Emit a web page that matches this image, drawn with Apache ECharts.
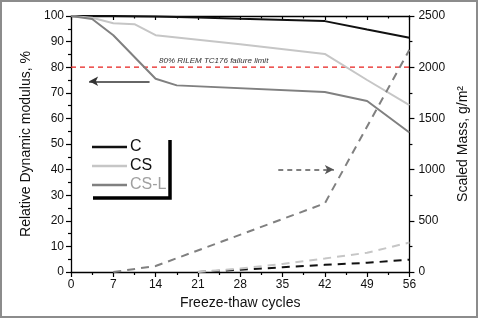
<!DOCTYPE html>
<html>
<head>
<meta charset="utf-8">
<script src="https://cdn.jsdelivr.net/npm/echarts@6/dist/echarts.min.js"></script>
<style>
  html, body { margin: 0; padding: 0; background: #fff; }
  #chart { width: 478px; height: 318px; }
</style>
</head>
<body>
<div id="chart"></div>
<script>
// ==============================
// data
// ==============================

// relative dynamic modulus, %
const cCycles = [0, 7, 14, 21, 28, 42, 49, 56];
const cModulus = [100, 100, 99.8, 99.4, 98.9, 98.0, 94.7, 91.5];

const csCycles = [0, 3.5, 7, 10.5, 14, 28, 42, 49, 56];
const csModulus = [100, 99.3, 97.2, 96.8, 92.5, 89.0, 85.2, 75.0, 65.2];

const cslCycles = [0, 3.5, 7, 14, 17.5, 42, 49, 56];
const cslModulus = [100, 98.8, 92.5, 75.5, 72.9, 70.3, 66.8, 54.5];

// scaled mass, g/m2 (zero part before these hidden under the axis)
const cMassCycles = [21, 28, 35, 42, 49, 56];
const cMass = [0, 22, 46, 70, 90, 120];

const csMassCycles = [21, 28, 35, 42, 49, 56];
const csMass = [0, 35, 78, 132, 188, 288];

const cslMassCycles = [7, 14, 42, 56];
const cslMass = [0, 58, 670, 2170];

const limitCycles = [0, 56];
const failureLimit = 80;

const lineColors = ['#111111', '#c6c6c6', '#808080'];
const legendTextColors = ['#111111', '#111111', '#a0a0a0'];
const names = ['C', 'CS', 'CS-L'];

const font = "'Liberation Sans', Arial, sans-serif";

// ==============================
// helpers
// ==============================

function pairs(xs, ys) {
  return xs.map((x, i) => [x, ys[i]]);
}

const tickStyle = { color: '#000', width: 1.2 };

const axisCommon = {
  axisLine: { show: true, onZero: false, lineStyle: { color: '#000', width: 1.3 } },
  splitLine: { show: false },
  axisLabel: { color: '#111', fontSize: 12, fontFamily: font, formatter: v => String(v) },
  nameTextStyle: { color: '#111', fontSize: 14, fontFamily: font }
};

// ==============================
// chart
// ==============================

const chart = echarts.init(document.getElementById('chart'));

const modulusSets = [pairs(cCycles, cModulus), pairs(csCycles, csModulus), pairs(cslCycles, cslModulus)];
const massSets = [pairs(cMassCycles, cMass), pairs(csMassCycles, csMass), pairs(cslMassCycles, cslMass)];

const series = [];

// failure limit line (red dashed)
series.push({
  name: 'limit',
  type: 'line',
  xAxisIndex: 0,
  yAxisIndex: 0,
  data: limitCycles.map(x => [x, failureLimit]),
  showSymbol: false,
  lineStyle: { color: '#e8201e', width: 1.2, type: [5, 4] },
  itemStyle: { color: '#e8201e' },
  z: 2
});

modulusSets.forEach((data, i) => {
  series.push({
    name: names[i],
    type: 'line',
    xAxisIndex: 0,
    yAxisIndex: 0,
    data: data,
    showSymbol: false,
    lineStyle: { color: lineColors[i], width: 2 },
    itemStyle: { color: lineColors[i] },
    z: 3
  });
});

massSets.forEach((data, i) => {
  series.push({
    name: names[i] + ' mass',
    type: 'line',
    xAxisIndex: 0,
    yAxisIndex: 1,
    data: data,
    showSymbol: false,
    lineStyle: { color: lineColors[i], width: 2, type: [8, 6] },
    itemStyle: { color: lineColors[i] },
    z: 3
  });
});

// the two arrows
series.push({
  type: 'line',
  data: [],
  xAxisIndex: 0,
  yAxisIndex: 0,
  markLine: {
    silent: true,
    symbol: ['none', 'arrow'],
    symbolSize: [7, 9],
    label: { show: false },
    lineStyle: { color: '#333', width: 1.6, type: 'solid' },
    data: [[{ coord: [13, 74.5] }, { coord: [3, 74.5] }]]
  }
});
series.push({
  type: 'line',
  data: [],
  xAxisIndex: 0,
  yAxisIndex: 1,
  markLine: {
    silent: true,
    symbol: ['none', 'arrow'],
    symbolSize: [7, 9],
    label: { show: false },
    lineStyle: { color: '#555', width: 1.6, type: [5, 4] },
    data: [[{ coord: [34.3, 1000] }, { coord: [43.5, 1000] }]]
  }
});

chart.setOption({
  animation: false,
  backgroundColor: '#fff',
  grid: { left: 71, right: 58, top: 16, bottom: 46 },
  legend: {
    orient: 'vertical',
    left: 92,
    top: 139,
    padding: 0,
    itemWidth: 35,
    itemHeight: 2.5,
    itemGap: 3,
    textStyle: { fontSize: 16, fontFamily: font, lineHeight: 16, padding: [0, 0, 0, -2] },
    data: names.map((n, i) => ({
      name: n,
      icon: 'rect',
      textStyle: { color: legendTextColors[i] }
    }))
  },
  xAxis: [
    Object.assign({}, axisCommon, {
      type: 'value',
      min: 0,
      max: 56,
      interval: 7,
      name: 'Freeze-thaw cycles',
      nameLocation: 'middle',
      nameGap: 24,
      axisTick: { show: true, inside: false, length: 5, lineStyle: tickStyle },
      minorTick: { show: true, splitNumber: 2, length: 3, lineStyle: tickStyle },
      axisLabel: Object.assign({}, axisCommon.axisLabel, { margin: 7 })
    }),
    Object.assign({}, axisCommon, {
      type: 'value',
      position: 'top',
      min: 0,
      max: 56,
      interval: 7,
      axisTick: { show: true, inside: true, length: 4, lineStyle: tickStyle },
      minorTick: { show: true, splitNumber: 2, length: 2.5, lineStyle: tickStyle },
      axisLabel: { show: false }
    })
  ],
  yAxis: [
    Object.assign({}, axisCommon, {
      type: 'value',
      position: 'left',
      min: 0,
      max: 100,
      interval: 10,
      name: 'Relative Dynamic modulus, %',
      nameLocation: 'middle',
      nameGap: 36,
      axisTick: { show: true, inside: false, length: 5, lineStyle: tickStyle },
      minorTick: { show: true, splitNumber: 2, length: 3, lineStyle: tickStyle },
      axisLabel: Object.assign({}, axisCommon.axisLabel, { margin: 7 })
    }),
    Object.assign({}, axisCommon, {
      type: 'value',
      position: 'right',
      min: 0,
      max: 2500,
      interval: 500,
      name: 'Scaled Mass, g/m²',
      nameLocation: 'middle',
      nameRotate: 90,
      nameGap: 42,
      axisTick: { show: true, inside: false, length: 5, lineStyle: tickStyle },
      minorTick: { show: true, splitNumber: 2, length: 3, lineStyle: tickStyle },
      axisLabel: Object.assign({}, axisCommon.axisLabel, { margin: 9 })
    })
  ],
  graphic: [
    {
      type: 'rect',
      shape: { x: 1, y: 1, width: 476, height: 316 },
      style: { fill: 'none', stroke: '#8c8c8c', lineWidth: 2 },
      silent: true
    },
    {
      type: 'text',
      left: 159,
      top: 57,
      style: {
        text: '80% RILEM TC176 failure limit',
        fill: '#333',
        font: 'italic 8px ' + font
      },
      silent: true
    },
    // legend frame (right + bottom)
    {
      type: 'polyline',
      shape: { points: [[170, 140], [170, 198], [93, 198]] },
      style: { stroke: '#000', lineWidth: 3.5, fill: 'none' },
      silent: true
    }
  ],
  series: series
});
</script>
</body>
</html>
